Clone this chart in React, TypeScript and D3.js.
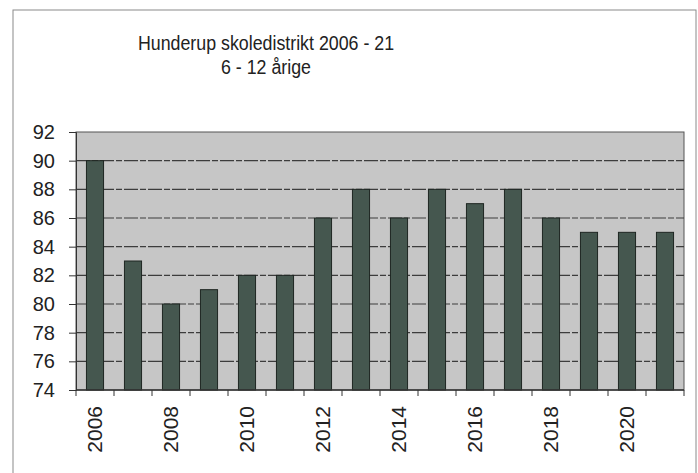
import React, { useEffect, useRef } from 'react';
import * as d3 from 'd3';

// data
const years = ['2006', '2007', '2008', '2009', '2010', '2011', '2012', '2013', '2014', '2015', '2016', '2017', '2018', '2019', '2020', '2021'];
const pupils = [90, 83, 80, 81, 82, 82, 86, 88, 86, 88, 87, 88, 86, 85, 85, 85];
const yTicks = [74, 76, 78, 80, 82, 84, 86, 88, 90, 92];
const titleLines = ['Hunderup skoledistrikt 2006 - 21', '6 - 12 årige'];

export default function App() {
  const ref = useRef<SVGSVGElement>(null);

  useEffect(() => {
    const width = 698;
    const height = 473;
    const margin = { top: 132, right: 14, bottom: 83, left: 76 };

    const svg = d3.select(ref.current);
    svg.selectAll('*').remove();
    svg.attr('width', width).attr('height', height);

    // white page + outer frame
    svg.append('rect').attr('width', width).attr('height', height).attr('fill', '#fff');
    svg.append('rect')
      .attr('x', 13).attr('y', 10)
      .attr('width', width - 15).attr('height', height + 10)
      .attr('fill', 'none').attr('stroke', '#8a8a8a').attr('stroke-width', 1);

    // title (the scan is a bit condensed horizontally)
    svg.append('g')
      .attr('transform', 'translate(266,0) scale(0.89,1)')
      .selectAll('text')
      .data(titleLines)
      .join('text')
      .attr('x', 0)
      .attr('y', (d, i) => 50 + i * 24)
      .attr('text-anchor', 'middle')
      .attr('font-family', 'Liberation Sans, Arial, sans-serif')
      .attr('font-size', 20)
      .attr('fill', '#222')
      .text(d => d);

    const x = d3.scaleBand()
      .domain(years)
      .range([margin.left, width - margin.right])
      .paddingInner(0.55)
      .paddingOuter(0.275);

    const band = d3.scaleBand()
      .domain(years)
      .range([margin.left, width - margin.right]);

    const y = d3.scaleLinear()
      .domain([74, 92])
      .range([height - margin.bottom, margin.top]);

    // plot background
    svg.append('rect')
      .attr('x', margin.left).attr('y', margin.top)
      .attr('width', width - margin.right - margin.left)
      .attr('height', height - margin.bottom - margin.top)
      .attr('fill', '#c6c6c6')
      .attr('stroke', '#555');

    // gridlines
    svg.append('g')
      .selectAll('line')
      .data(yTicks.slice(1, -1))
      .join('line')
      .attr('x1', margin.left).attr('x2', width - margin.right)
      .attr('y1', d => y(d)).attr('y2', d => y(d))
      .attr('stroke', '#3c3c3c')
      .attr('stroke-width', 1.2)
      .attr('stroke-dasharray', '14 2 6 2');

    // bars
    svg.append('g')
      .selectAll('rect')
      .data(pupils)
      .join('rect')
      .attr('x', (d, i) => x(years[i]) as number)
      .attr('y', d => y(d))
      .attr('width', x.bandwidth())
      .attr('height', d => y(74) - y(d))
      .attr('fill', '#45574f')
      .attr('stroke', '#1e2622')
      .attr('stroke-width', 1);

    // y axis
    const yAxis = svg.append('g')
      .attr('transform', `translate(${margin.left},0)`)
      .call(d3.axisLeft(y).tickValues(yTicks).tickSize(7).tickPadding(14));
    yAxis.select('.domain').attr('stroke', '#333');
    yAxis.selectAll('line').attr('stroke', '#333');
    yAxis.selectAll('text')
      .attr('font-family', 'Liberation Sans, Arial, sans-serif')
      .attr('font-size', 20)
      .attr('fill', '#222');

    // x axis: ticks at band edges, labels every other year
    const xg = svg.append('g');
    xg.append('line')
      .attr('x1', margin.left).attr('x2', width - margin.right)
      .attr('y1', y(74)).attr('y2', y(74))
      .attr('stroke', '#333').attr('stroke-width', 1.5);
    xg.selectAll('line.tick')
      .data(years.concat(['end']))
      .join('line')
      .attr('class', 'tick')
      .attr('x1', (d, i) => margin.left + i * band.step())
      .attr('x2', (d, i) => margin.left + i * band.step())
      .attr('y1', y(74)).attr('y2', y(74) + 6)
      .attr('stroke', '#333');
    xg.selectAll('text')
      .data(years.filter((d, i) => i % 2 === 0))
      .join('text')
      .attr('transform', d => `translate(${(band(d) as number) + band.bandwidth() / 2 + 7},${y(74) + 16}) rotate(-90)`)
      .attr('text-anchor', 'end')
      .attr('font-family', 'Liberation Sans, Arial, sans-serif')
      .attr('font-size', 21)
      .attr('fill', '#222')
      .text(d => d);
  }, []);

  return <svg ref={ref} style={{ position: 'absolute', left: 0, top: 0 }} />;
}
